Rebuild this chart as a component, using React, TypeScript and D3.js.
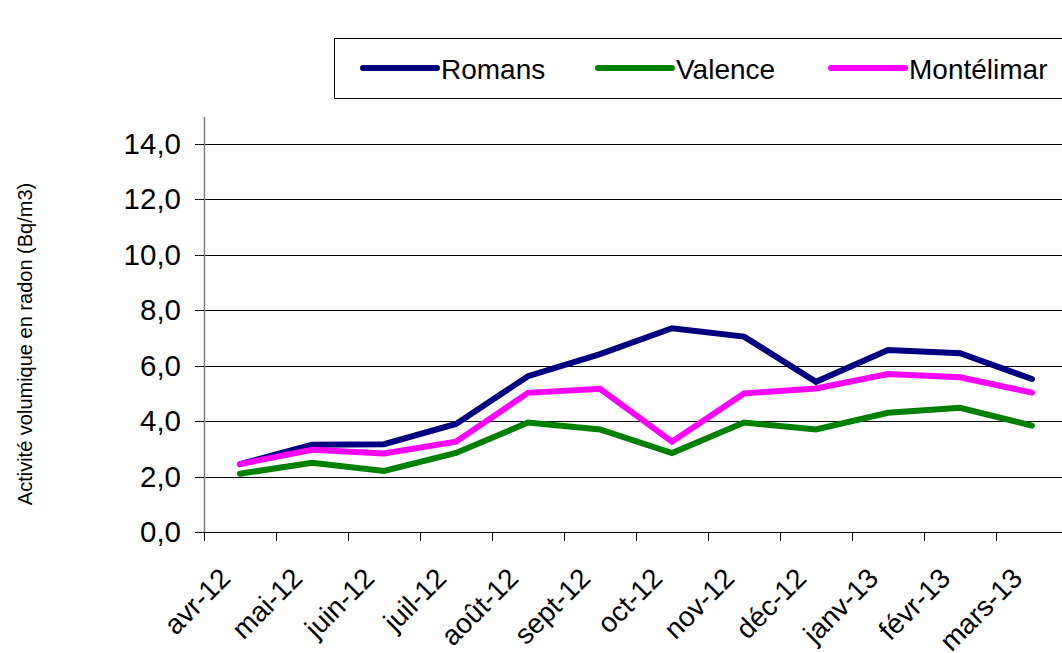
import React from 'react';
import * as d3 from 'd3';

// data
const months = ['avr-12', 'mai-12', 'juin-12', 'juil-12', 'août-12', 'sept-12', 'oct-12', 'nov-12', 'déc-12', 'janv-13', 'févr-13', 'mars-13'];
const romans = [2.45, 3.15, 3.17, 3.9, 5.62, 6.42, 7.35, 7.05, 5.42, 6.57, 6.45, 5.52];
const valence = [2.1, 2.5, 2.2, 2.85, 3.95, 3.7, 2.85, 3.95, 3.7, 4.3, 4.48, 3.84];
const montelimar = [2.45, 2.97, 2.83, 3.26, 5.02, 5.17, 3.26, 5.0, 5.18, 5.7, 5.58, 5.03];
const yTicks = [0, 2, 4, 6, 8, 10, 12, 14];

const series = [
  { name: 'Romans', values: romans, color: '#000080' },
  { name: 'Valence', values: valence, color: '#008000' },
  { name: 'Montélimar', values: montelimar, color: '#FF00FF' },
];

const legendPos = [363, 598, 831];

export default function App() {
  const W = 1062;
  const H = 653;
  const left = 204;
  const bottom = 532;

  const x = d3.scaleBand().domain(months).range([left, left + months.length * 72]);
  const y = d3.scaleLinear().domain([0, 14]).range([bottom, 144]);
  const cx = (m: string) => (x(m) as number) + x.bandwidth() / 2;

  const line = d3.line<number>()
    .x((_, i) => cx(months[i]))
    .y(d => y(d));

  const fmt = (v: number) => v.toFixed(1).replace('.', ',');
  const font = '"Liberation Sans", Arial, sans-serif';

  return (
    <svg width={W} height={H} style={{ position: 'absolute', left: 0, top: 0, background: '#fff' }} fontFamily={font}>
      {/* legend */}
      <rect x={334.5} y={38.5} width={760} height={60} fill="#fff" stroke="#000" strokeWidth={1} />
      {series.map((s, i) => (
        <g key={s.name}>
          <line x1={legendPos[i]} x2={legendPos[i] + 74} y1={68} y2={68} stroke={s.color} strokeWidth={6} strokeLinecap="round" />
          <text x={legendPos[i] + 78} y={79} fontSize={28} fill="#000">{s.name}</text>
        </g>
      ))}

      {/* gridlines */}
      {yTicks.filter(t => t > 0).map(t => (
        <line key={t} x1={left} x2={W} y1={Math.round(y(t)) + 0.5} y2={Math.round(y(t)) + 0.5} stroke="#000" strokeWidth={1} />
      ))}

      {/* y axis */}
      <line x1={left + 0.5} x2={left + 0.5} y1={117} y2={bottom} stroke="#808080" strokeWidth={1.5} />
      {yTicks.map(t => (
        <g key={t}>
          <line x1={left - 9} x2={left} y1={Math.round(y(t)) + 0.5} y2={Math.round(y(t)) + 0.5} stroke="#000" />
          <text x={181} y={y(t) + 10} textAnchor="end" fontSize={29.5} fill="#000">{fmt(t)}</text>
        </g>
      ))}

      {/* x axis */}
      <line x1={left} x2={W} y1={bottom + 0.5} y2={bottom + 0.5} stroke="#000" strokeWidth={1} />
      {months.map(m => (
        <line key={m} x1={(x(m) as number) + 0.5} x2={(x(m) as number) + 0.5} y1={bottom} y2={bottom + 9} stroke="#000" />
      ))}
      {months.map(m => (
        <text key={m} transform={`translate(${cx(m) - 8},${580}) rotate(-45)`} textAnchor="end" fontSize={28} fill="#000">{m}</text>
      ))}

      {/* y axis title */}
      <text transform={`translate(32,344) rotate(-90)`} textAnchor="middle" fontSize={20} fill="#000">Activité volumique en radon (Bq/m3)</text>

      {/* lines */}
      {series.map(s => (
        <path key={s.name} d={line(s.values) as string} fill="none" stroke={s.color} strokeWidth={6} strokeLinejoin="miter" strokeLinecap="round" />
      ))}
    </svg>
  );
}
